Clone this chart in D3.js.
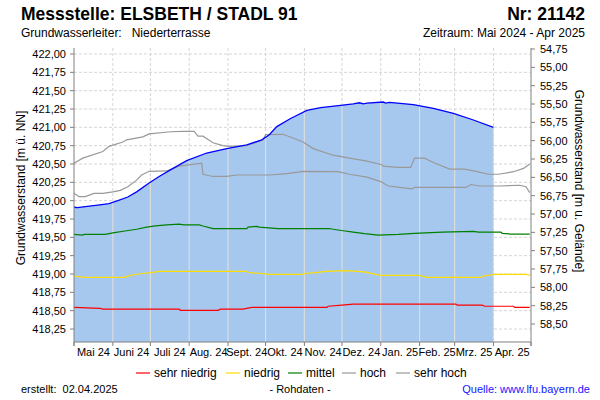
<!DOCTYPE html>
<html><head><meta charset="utf-8">
<script src="https://cdn.jsdelivr.net/npm/d3@7"></script>
<style>
body{margin:0;background:#fff;}
svg{display:block;font-family:"Liberation Sans",Arial,sans-serif;}
</style></head>
<body>
<svg id="chart" width="600" height="400"></svg>
<script>
// ---------- DATA ----------
const monthLabels = ["Mai 24","Juni 24","Juli 24","Aug. 24","Sept. 24","Okt. 24","Nov. 24","Dez. 24","Jan. 25","Feb. 25","Mrz. 25","Apr. 25"];
const leftTicks = [418.25,418.5,418.75,419,419.25,419.5,419.75,420,420.25,420.5,420.75,421,421.25,421.5,421.75,422];
const rightTicks = [54.75,55,55.25,55.5,55.75,56,56.25,56.5,56.75,57,57.25,57.5,57.75,58,58.25,58.5];
const groundLevel = 476.818;

const level = [
 ["2024-05-01",419.91],["2024-05-04",419.905],["2024-05-10",419.92],["2024-05-20",419.94],["2024-05-29",419.96],
 ["2024-06-05",420.00],["2024-06-13",420.05],["2024-06-20",420.12],["2024-06-30",420.24],["2024-07-08",420.33],
 ["2024-07-17",420.42],["2024-07-30",420.545],["2024-08-15",420.65],["2024-08-31",420.71],["2024-09-16",420.76],
 ["2024-09-28",420.83],["2024-10-04",420.90],["2024-10-10",421.01],["2024-10-21",421.12],["2024-11-03",421.23],
 ["2024-11-14",421.27],["2024-11-30",421.30],["2024-12-10",421.32],["2024-12-15",421.335],["2024-12-18",421.32],
 ["2024-12-21",421.33],["2025-01-03",421.345],["2025-01-05",421.33],["2025-01-08",421.34],["2025-01-27",421.31],
 ["2025-02-12",421.26],["2025-02-28",421.19],["2025-03-16",421.10],["2025-04-01",421.00]
];
const sehrHoch = [
 ["2024-05-01",420.51],["2024-05-08",420.58],["2024-05-24",420.67],["2024-05-29",420.74],["2024-06-09",420.80],
 ["2024-06-12",420.83],["2024-06-25",420.87],["2024-06-30",420.91],["2024-07-17",420.94],["2024-07-27",420.945],
 ["2024-08-05",420.945],["2024-08-08",420.88],["2024-08-12",420.88],["2024-08-20",420.79],["2024-08-28",420.75],
 ["2024-09-02",420.74],["2024-09-16",420.75],["2024-09-29",420.83],["2024-10-01",420.90],["2024-10-15",420.905],
 ["2024-10-31",420.80],["2024-11-08",420.71],["2024-11-24",420.62],["2024-12-07",420.58],["2024-12-21",420.54],
 ["2025-01-02",420.49],["2025-01-03",420.47],["2025-01-14",420.455],["2025-01-25",420.455],["2025-01-28",420.58],
 ["2025-02-05",420.58],["2025-02-12",420.52],["2025-02-25",420.43],["2025-03-09",420.43],["2025-03-19",420.395],
 ["2025-03-28",420.36],["2025-04-05",420.36],["2025-04-17",420.395],["2025-04-25",420.44],["2025-04-30",420.50]
];
const hoch = [
 ["2024-05-01",420.10],["2024-05-05",420.055],["2024-05-10",420.055],["2024-05-17",420.10],["2024-05-24",420.10],
 ["2024-06-01",420.12],["2024-06-07",420.14],["2024-06-13",420.19],["2024-06-20",420.28],["2024-06-24",420.35],
 ["2024-06-30",420.40],["2024-07-14",420.405],["2024-07-24",420.47],["2024-08-11",420.51],["2024-08-12",420.36],
 ["2024-08-20",420.33],["2024-08-31",420.33],["2024-09-08",420.35],["2024-10-04",420.35],["2024-10-18",420.37],
 ["2024-10-31",420.40],["2024-11-28",420.395],["2024-12-07",420.36],["2024-12-21",420.32],["2025-01-01",420.26],
 ["2025-01-07",420.20],["2025-01-16",420.18],["2025-01-26",420.16],["2025-01-28",420.18],["2025-03-10",420.18],
 ["2025-03-14",420.22],["2025-03-21",420.20],["2025-04-06",420.20],["2025-04-22",420.21],["2025-04-27",420.19],
 ["2025-04-30",420.11]
];
const mittel = [
 ["2024-05-01",419.54],["2024-05-08",419.53],["2024-05-09",419.54],["2024-05-26",419.54],["2024-06-01",419.56],
 ["2024-06-12",419.59],["2024-06-20",419.61],["2024-06-28",419.64],["2024-07-05",419.655],["2024-07-14",419.67],
 ["2024-07-24",419.68],["2024-07-28",419.67],["2024-08-09",419.67],["2024-08-12",419.655],["2024-08-20",419.62],
 ["2024-09-16",419.62],["2024-09-17",419.64],["2024-09-24",419.65],["2024-09-26",419.64],["2024-10-11",419.62],
 ["2024-11-21",419.62],["2024-11-24",419.61],["2024-12-02",419.59],["2024-12-10",419.57],["2024-12-19",419.55],
 ["2024-12-30",419.53],["2025-01-15",419.54],["2025-01-28",419.555],["2025-02-19",419.57],["2025-03-16",419.58],
 ["2025-03-20",419.57],["2025-04-07",419.57],["2025-04-08",419.555],["2025-04-15",419.545],["2025-04-30",419.545]
];
const niedrig = [
 ["2024-05-01",418.97],["2024-05-10",418.955],["2024-06-10",418.955],["2024-06-13",418.97],["2024-06-17",418.99],
 ["2024-06-26",419.01],["2024-07-02",419.02],["2024-07-08",419.035],["2024-09-16",419.035],["2024-09-17",419.02],
 ["2024-09-26",419.01],["2024-10-04",418.995],["2024-10-31",418.995],["2024-11-02",419.01],["2024-11-10",419.02],
 ["2024-11-18",419.035],["2024-12-05",419.045],["2024-12-19",419.03],["2024-12-28",418.995],["2025-01-01",418.98],
 ["2025-02-01",418.98],["2025-02-07",418.955],["2025-03-22",418.955],["2025-03-23",418.97],["2025-04-02",418.995],
 ["2025-04-27",418.995],["2025-04-30",418.98]
];
const sehrNiedrig = [
 ["2024-05-01",418.545],["2024-05-22",418.53],["2024-05-24",418.52],["2024-07-24",418.52],["2024-07-25",418.505],
 ["2024-08-24",418.505],["2024-08-26",418.52],["2024-09-13",418.52],["2024-09-20",418.545],["2024-11-19",418.545],
 ["2024-11-20",418.56],["2024-12-01",418.575],["2024-12-10",418.59],["2025-03-02",418.59],["2025-03-03",418.575],
 ["2025-03-23",418.575],["2025-03-25",418.56],["2025-04-17",418.56],["2025-04-18",418.545],["2025-04-30",418.545]
];
const legendNames = ["sehr niedrig","niedrig","mittel","hoch","sehr hoch"];
const legendColors = ["#ff0000","#ffdd00","#008000","#999999","#999999"];

// ---------- CHART ----------
const parse = d3.timeParse("%Y-%m-%d");
const svg = d3.select("#chart");
const L = 74, R = 531, T = 48, B = 342;
const x = d3.scaleTime().domain([parse("2024-05-01"), parse("2025-05-01")]).range([L, R]);
const k = 275 / 3.75;
const y = d3.scaleLinear().domain([418.25 - 13 / k, 422 + 6 / k]).range([B, T]);
const fmt = v => d3.format(".2f")(v).replace(".", ",");
const months = d3.timeMonth.range(parse("2024-05-01"), parse("2025-05-02"));

// dashed grid
const grid = svg.append("g");
leftTicks.forEach(t => grid.append("line").attr("x1", L).attr("x2", R).attr("y1", y(t)).attr("y2", y(t))
  .attr("stroke", "#d6d6d6").attr("stroke-dasharray", "3,2"));
months.slice(1, -1).forEach(m => grid.append("line").attr("x1", x(m)).attr("x2", x(m)).attr("y1", T).attr("y2", B)
  .attr("stroke", "#d6d6d6").attr("stroke-dasharray", "3,2"));

// area
const lvl = level.map(d => [parse(d[0]), d[1]]);
const areaGen = d3.area().x(d => x(d[0])).y0(B).y1(d => y(d[1]));
svg.append("defs").append("clipPath").attr("id", "areaClip").append("path").attr("d", areaGen(lvl));
svg.append("path").attr("d", areaGen(lvl)).attr("fill", "#a6c8ef");
const vg = svg.append("g").attr("clip-path", "url(#areaClip)");
months.slice(1, -1).forEach(m => vg.append("line").attr("x1", x(m)).attr("x2", x(m)).attr("y1", T).attr("y2", B)
  .attr("stroke", "#dcdcdc").attr("stroke-width", 1.2));

// reference lines
const lineGen = d3.line().x(d => x(parse(d[0]))).y(d => y(d[1]));
[[sehrHoch, legendColors[4]], [hoch, legendColors[3]], [mittel, legendColors[2]], [niedrig, legendColors[1]], [sehrNiedrig, legendColors[0]]]
  .forEach(([data, c]) => svg.append("path").attr("d", lineGen(data)).attr("fill", "none").attr("stroke", c).attr("stroke-width", 1.2));

// level line
svg.append("path").attr("d", lineGen(level)).attr("fill", "none").attr("stroke", "#0000ff").attr("stroke-width", 1.3);

// axes
const axCol = "#808080";
const ax = svg.append("g");
ax.append("line").attr("x1", L).attr("x2", L).attr("y1", T).attr("y2", B + 4).attr("stroke", axCol);
ax.append("line").attr("x1", R).attr("x2", R).attr("y1", T).attr("y2", B + 4).attr("stroke", axCol);
ax.append("line").attr("x1", L).attr("x2", R).attr("y1", B).attr("y2", B).attr("stroke", axCol);
leftTicks.forEach(t => {
  ax.append("line").attr("x1", L - 4).attr("x2", L).attr("y1", y(t)).attr("y2", y(t)).attr("stroke", axCol);
  ax.append("text").attr("x", L - 8).attr("y", y(t)).attr("dy", "0.35em").attr("text-anchor", "end")
    .attr("font-size", 11).text(fmt(t));
});
rightTicks.forEach(t => {
  const yy = y(groundLevel - t);
  ax.append("line").attr("x1", R).attr("x2", R + 4).attr("y1", yy).attr("y2", yy).attr("stroke", axCol);
  ax.append("text").attr("x", R + 9).attr("y", yy).attr("dy", "0.35em").attr("text-anchor", "start")
    .attr("font-size", 11).text(fmt(t));
});
months.forEach(m => ax.append("line").attr("x1", x(m)).attr("x2", x(m)).attr("y1", B).attr("y2", B + 4).attr("stroke", axCol));
monthLabels.forEach((lab, i) => ax.append("text").attr("x", (x(months[i]) + x(months[i + 1])) / 2).attr("y", B + 14)
  .attr("text-anchor", "middle").attr("font-size", 11).text(lab));

// axis titles
svg.append("text").attr("transform", "translate(25,188) rotate(-90)").attr("text-anchor", "middle")
  .attr("font-size", 12).text("Grundwasserstand [m ü. NN]");
svg.append("text").attr("transform", "translate(575,181) rotate(90)").attr("text-anchor", "middle")
  .attr("font-size", 12).text("Grundwasserstand [m u. Gelände]");

// header
svg.append("text").attr("x", 21).attr("y", 20).attr("font-size", 17.5).attr("font-weight", "bold").text("Messstelle: ELSBETH / STADL 91");
svg.append("text").attr("x", 585).attr("y", 20).attr("font-size", 17.5).attr("font-weight", "bold").attr("text-anchor", "end").text("Nr: 21142");
svg.append("text").attr("x", 21).attr("y", 37).attr("font-size", 12).attr("xml:space", "preserve").text("Grundwasserleiter:   Niederterrasse");
svg.append("text").attr("x", 585).attr("y", 37).attr("font-size", 12).attr("text-anchor", "end").text("Zeitraum: Mai 2024 - Apr 2025");

// legend
const legX = [136, 226, 288, 342, 396];
legendNames.forEach((n, i) => {
  svg.append("line").attr("x1", legX[i]).attr("x2", legX[i] + 14).attr("y1", 373).attr("y2", 373)
    .attr("stroke", legendColors[i]).attr("stroke-width", 1.2);
  svg.append("text").attr("x", legX[i] + 18).attr("y", 373).attr("dy", "0.35em").attr("font-size", 12).text(n);
});

// footer
svg.append("text").attr("x", 21).attr("y", 393).attr("font-size", 11).attr("xml:space", "preserve").text("erstellt:  02.04.2025");
svg.append("text").attr("x", 300).attr("y", 393).attr("font-size", 11).attr("text-anchor", "middle").text("- Rohdaten -");
svg.append("text").attr("x", 590).attr("y", 393).attr("font-size", 11).attr("text-anchor", "end").attr("fill", "#1515ff").text("Quelle: www.lfu.bayern.de");
</script>
</body></html>
